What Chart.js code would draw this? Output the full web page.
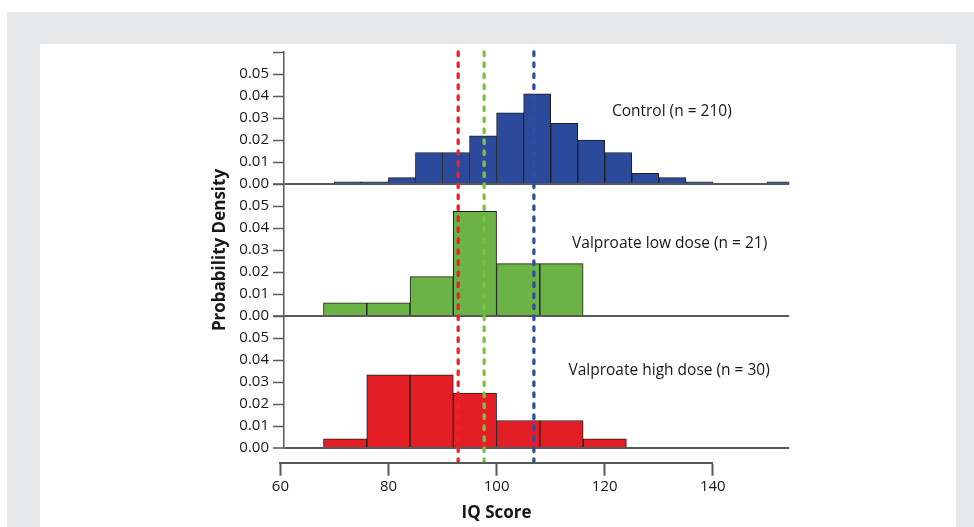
<!DOCTYPE html>
<html>
<head>
<meta charset="utf-8">
<script src="https://cdn.jsdelivr.net/npm/chart.js@4.4.1/dist/chart.umd.min.js"></script>
<style>
html,body{margin:0;padding:0;background:#ffffff;width:974px;height:527px;overflow:hidden;}
#frame{position:absolute;left:7px;top:12px;width:967px;height:515px;background:#e6e7e8;}
#panel{position:absolute;left:40px;top:44px;width:916px;height:483px;background:#ffffff;}
canvas{position:absolute;left:0;top:0;}
</style>
</head>
<body>
<div id="frame"></div>
<div id="panel"></div>
<canvas id="hist" width="974" height="527"></canvas>
<canvas id="axis" width="974" height="527"></canvas>
<script>
// ---------------- data ----------------
const controlBinStarts = [70, 75, 80, 85, 90, 95, 100, 105, 110, 115, 120, 125, 130, 135, 140, 145, 150];
const controlDensity   = [0.00095, 0.00095, 0.0029, 0.0143, 0.0143, 0.0219, 0.0324, 0.041, 0.0276, 0.02, 0.0143, 0.0048, 0.0029, 0.00095, 0, 0, 0.00095];
const controlBinWidth  = 5;

const lowBinStarts = [68, 76, 84, 92, 100, 108];
const lowDensity   = [0.006, 0.006, 0.0179, 0.0476, 0.0238, 0.0238];

const highBinStarts = [68, 76, 84, 92, 100, 108, 116];
const highDensity   = [0.0042, 0.0333, 0.0333, 0.025, 0.0125, 0.0125, 0.0042];
const valproateBinWidth = 8;

const meanGroups = ['Valproate high dose', 'Valproate low dose', 'Control'];
const meanIQ     = [92.9, 97.7, 106.9];

const panelLabels = ['Control (n = 210)', 'Valproate low dose (n = 21)', 'Valproate high dose (n = 30)'];
const panelLabelX = [132.4, 132.0, 131.9];
const panelLabelY = [0.0327, 0.033, 0.035];

const yTickValues = [0, 0.01, 0.02, 0.03, 0.04, 0.05, 0.06];
const yTickLabels = ['0.00', '0.01', '0.02', '0.03', '0.04', '0.05'];
const xTickValues = [60, 80, 100, 120, 140];

// ---------------- styling ----------------
const axisGray = '#58595b';
const textColor = '#1a1718';
const barColors = ['#2c4a9c', '#6ab344', '#e31e25'];
const meanColors = ['#ec2228', '#7cc143', '#2d4fa3'];
const panelXMin = 60.7, panelXMax = 154.1;

Chart.defaults.font.family = '"Open Sans", "Noto Sans", sans-serif';
Chart.defaults.color = textColor;

function toPoints(starts, width, dens) {
  return starts.map((s, i) => ({ x: s + width / 2, y: dens[i] }));
}

function hiddenX() {
  return { type: 'linear', display: false, min: panelXMin, max: panelXMax, offset: false, ticks: { stepSize: 20 } };
}

function panelY(weight, title) {
  return {
    type: 'linear', position: 'left', stack: 'panels', stackWeight: 1, weight: weight,
    min: 0, max: 0.06,
    afterBuildTicks: s => { s.ticks = yTickValues.map(v => ({ value: v })); },
    afterFit: s => { s.width = 80; },
    ticks: {
      autoSkip: false,
      callback: (v, i) => (yTickLabels[i] !== undefined ? yTickLabels[i] : ''),
      font: { size: 15 }, color: textColor, padding: 4
    },
    grid: {
      drawOnChartArea: true, drawTicks: true,
      color: c => (c.tick && c.tick.value === 0) ? axisGray : 'rgba(0,0,0,0)',
      lineWidth: c => (c.tick && c.tick.value === 0) ? 2 : 1,
      tickColor: axisGray, tickLength: 11, tickWidth: 1.5
    },
    border: { display: true, color: axisGray, width: 1.5 },
    title: title ? {
      display: true, text: title, color: textColor,
      font: { size: 17, weight: 'bold' }, padding: { top: 6, bottom: 0 }
    } : { display: false }
  };
}

function barSet(label, pts, xId, yId, color) {
  return {
    type: 'bar', label: label, data: pts, xAxisID: xId, yAxisID: yId,
    backgroundColor: color, borderColor: '#1e1e1e', borderWidth: 1,
    barPercentage: 1, categoryPercentage: 1, grouped: false, order: 2
  };
}

const meanSets = meanIQ.map((m, i) => ({
  type: 'line', label: meanGroups[i] + ' mean',
  data: [{ x: m, y: 1 }, { x: m, y: -0.04 }],
  xAxisID: 'x1', yAxisID: 'yAll',
  borderColor: meanColors[i], borderWidth: 3.3, borderDash: [3.5, 7.5], borderCapStyle: 'round',
  pointRadius: 0, fill: false, tension: 0, clip: false, order: 0
}));

const panelLabelPlugin = {
  id: 'panelLabels',
  afterDatasetsDraw(chart) {
    const ctx = chart.ctx;
    const yIds = ['y1', 'y2', 'y3'];
    ctx.save();
    ctx.font = '15.5px "Open Sans", "Noto Sans", sans-serif';
    ctx.fillStyle = textColor;
    ctx.textAlign = 'center';
    ctx.textBaseline = 'middle';
    panelLabels.forEach((t, i) => {
      const x = chart.scales.x1.getPixelForValue(panelLabelX[i]);
      const y = chart.scales[yIds[i]].getPixelForValue(panelLabelY[i]);
      ctx.fillText(t, x, y);
    });
    ctx.restore();
  }
};

new Chart(document.getElementById('hist'), {
  type: 'bar',
  data: {
    datasets: [
      barSet('Control', toPoints(controlBinStarts, controlBinWidth, controlDensity), 'x1', 'y1', barColors[0]),
      barSet('Valproate low dose', toPoints(lowBinStarts, valproateBinWidth, lowDensity), 'x2', 'y2', barColors[1]),
      barSet('Valproate high dose', toPoints(highBinStarts, valproateBinWidth, highDensity), 'x3', 'y3', barColors[2])
    ].concat(meanSets)
  },
  options: {
    responsive: false, animation: false, events: [],
    layout: { padding: { left: 204, right: 184.8, top: 52, bottom: 79 } },
    plugins: { legend: { display: false }, tooltip: { enabled: false } },
    scales: {
      x1: hiddenX(), x2: hiddenX(), x3: hiddenX(),
      yAll: { type: 'linear', position: 'left', display: false, min: 0, max: 1 },
      y1: panelY(3, null),
      y2: panelY(2, 'Probability Density'),
      y3: panelY(1, null)
    }
  },
  plugins: [panelLabelPlugin]
});

new Chart(document.getElementById('axis'), {
  type: 'scatter',
  data: { datasets: [] },
  options: {
    responsive: false, animation: false, events: [],
    layout: { padding: { left: 280.4, right: 261.2, top: 300, bottom: 0 } },
    plugins: { legend: { display: false }, tooltip: { enabled: false } },
    scales: {
      x: {
        type: 'linear', position: 'bottom', min: 60, max: 140,
        afterBuildTicks: s => { s.ticks = xTickValues.map(v => ({ value: v })); },
        afterFit: s => { s.height = 64.3; },
        grid: { drawOnChartArea: false, drawTicks: true, tickLength: 13, tickColor: axisGray, tickWidth: 2 },
        border: { display: true, color: axisGray, width: 2 },
        ticks: { autoSkip: false, font: { size: 15 }, color: textColor, padding: 2, maxRotation: 0 },
        title: { display: true, text: 'IQ Score', color: textColor, font: { size: 17, weight: 'bold' }, padding: { top: 0, bottom: 4 } }
      },
      y: { display: false }
    }
  }
});
</script>
</body>
</html>
